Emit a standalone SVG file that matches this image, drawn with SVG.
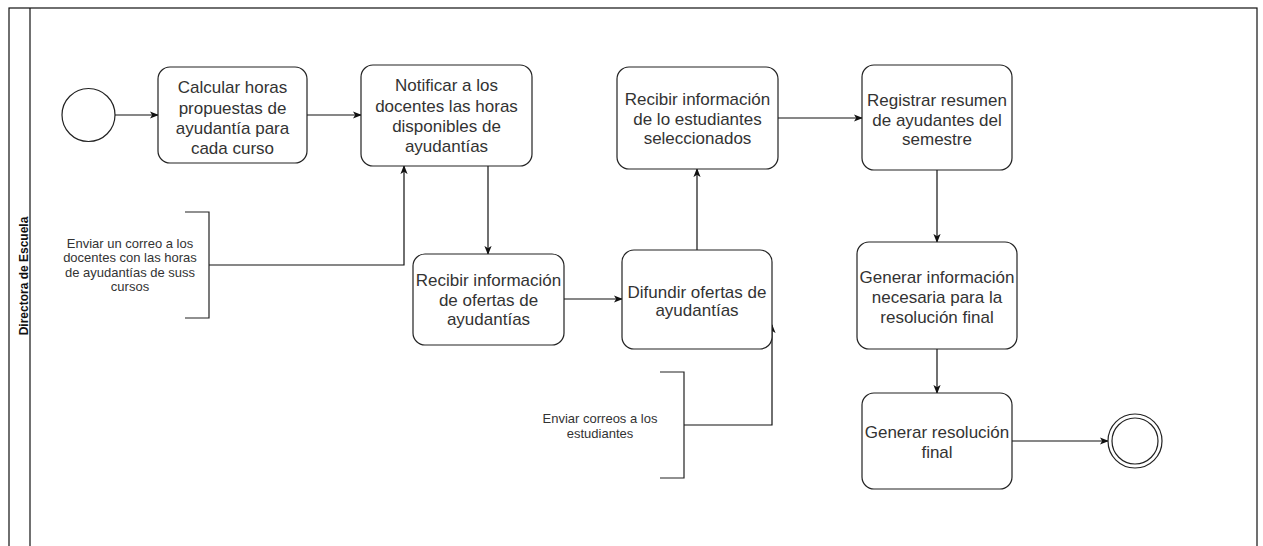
<svg xmlns="http://www.w3.org/2000/svg" width="1263" height="546" viewBox="0 0 1263 546">
<style>
.task{fill:#fff;stroke:#222;stroke-width:1.2}
.t{font-family:"Liberation Sans",Arial,sans-serif;font-size:17px;fill:#333;text-anchor:middle}
.s{font-family:"Liberation Sans",Arial,sans-serif;font-size:13px;fill:#333;text-anchor:middle}
.c{fill:none;stroke:#111;stroke-width:1.2}
.br{fill:none;stroke:#222;stroke-width:1.2}
</style>
<defs>
<marker id="a" viewBox="0 0 10 10" refX="9" refY="5" markerWidth="9" markerHeight="9" markerUnits="userSpaceOnUse" orient="auto">
<path d="M0,1 L10,5 L0,9 L2.5,5 Z" fill="#111"/>
</marker>
</defs>
<rect width="1263" height="546" fill="#fff"/>
<g id="pool">
<rect x="9" y="8" width="1248" height="560" fill="none" stroke="#111" stroke-width="1.2"/>
<line x1="30" y1="8" x2="30" y2="546" stroke="#111" stroke-width="1.2"/>
<text transform="translate(28,276) rotate(-90)" font-family="'Liberation Sans',Arial,sans-serif" font-size="12px" font-weight="bold" fill="#111" text-anchor="middle">Directora de Escuela</text>
</g>
<g id="connectors">
<line class="c" x1="115" y1="115" x2="158" y2="115" marker-end="url(#a)"/>
<line class="c" x1="307" y1="115" x2="361" y2="115" marker-end="url(#a)"/>
<polyline class="c" points="209,265 404,265 404,166" marker-end="url(#a)"/>
<line class="c" x1="488" y1="166" x2="488" y2="254" marker-end="url(#a)"/>
<line class="c" x1="564" y1="299" x2="622" y2="299" marker-end="url(#a)"/>
<line class="c" x1="697" y1="250" x2="697" y2="169" marker-end="url(#a)"/>
<polyline class="c" points="684,425 772,425 772,325" marker-end="url(#a)"/>
<line class="c" x1="778" y1="118" x2="862" y2="118" marker-end="url(#a)"/>
<line class="c" x1="937" y1="170" x2="937" y2="242" marker-end="url(#a)"/>
<line class="c" x1="937" y1="349" x2="937" y2="393" marker-end="url(#a)"/>
<line class="c" x1="1012" y1="441" x2="1108" y2="441" marker-end="url(#a)"/>
</g>
<g id="start">
<circle cx="88.5" cy="115" r="26.5" fill="#fff" stroke="#222" stroke-width="1.2"/>
</g>
<g id="task1">
<rect class="task" x="158" y="67" width="149" height="96" rx="12"/>
<text class="t"><tspan x="232.5" y="93">Calcular horas</tspan><tspan x="232.5" y="114">propuestas de</tspan><tspan x="232.5" y="134">ayudantía para</tspan><tspan x="232.5" y="154">cada curso</tspan></text>
</g>
<g id="task2">
<rect class="task" x="361" y="65" width="171" height="101" rx="12"/>
<text class="t"><tspan x="446.5" y="91">Notificar a los</tspan><tspan x="446.5" y="112">docentes las horas</tspan><tspan x="446.5" y="132">disponibles de</tspan><tspan x="446.5" y="152">ayudantías</tspan></text>
</g>
<g id="note1">
<polyline class="br" points="185,212 209,212 209,318 185,318"/>
<text class="s"><tspan x="130" y="247.5">Enviar un correo a los</tspan><tspan x="130" y="262">docentes con las horas</tspan><tspan x="130" y="276.5">de ayudantías de suss</tspan><tspan x="130" y="291">cursos</tspan></text>
</g>
<g id="task3">
<rect class="task" x="413" y="254" width="151" height="91" rx="12"/>
<text class="t"><tspan x="488.5" y="286">Recibir información</tspan><tspan x="488.5" y="306">de ofertas de</tspan><tspan x="488.5" y="325">ayudantías</tspan></text>
</g>
<g id="task4">
<rect class="task" x="622" y="250" width="150" height="99" rx="12"/>
<text class="t"><tspan x="697" y="298">Difundir ofertas de</tspan><tspan x="697" y="316">ayudantías</tspan></text>
</g>
<g id="note2">
<polyline class="br" points="660,372 684,372 684,478 660,478"/>
<text class="s"><tspan x="600" y="422.5">Enviar correos a los</tspan><tspan x="600" y="437.5">estudiantes</tspan></text>
</g>
<g id="task5">
<rect class="task" x="617" y="67" width="161" height="102" rx="12"/>
<text class="t"><tspan x="697.5" y="105">Recibir información</tspan><tspan x="697.5" y="125">de lo estudiantes</tspan><tspan x="697.5" y="144">seleccionados</tspan></text>
</g>
<g id="task6">
<rect class="task" x="862" y="65" width="150" height="105" rx="12"/>
<text class="t"><tspan x="937" y="106">Registrar resumen</tspan><tspan x="937" y="126">de ayudantes del</tspan><tspan x="937" y="145">semestre</tspan></text>
</g>
<g id="task7">
<rect class="task" x="857" y="242" width="160" height="107" rx="12"/>
<text class="t"><tspan x="937" y="283">Generar información</tspan><tspan x="937" y="303">necesaria para la</tspan><tspan x="937" y="323">resolución final</tspan></text>
</g>
<g id="task8">
<rect class="task" x="862" y="393" width="150" height="96" rx="12"/>
<text class="t"><tspan x="937" y="438">Generar resolución</tspan><tspan x="937" y="458">final</tspan></text>
</g>
<g id="end">
<circle cx="1135" cy="441" r="27" fill="#fff" stroke="#222" stroke-width="1.2"/>
<circle cx="1135" cy="441" r="23" fill="none" stroke="#222" stroke-width="1.2"/>
</g>
</svg>
